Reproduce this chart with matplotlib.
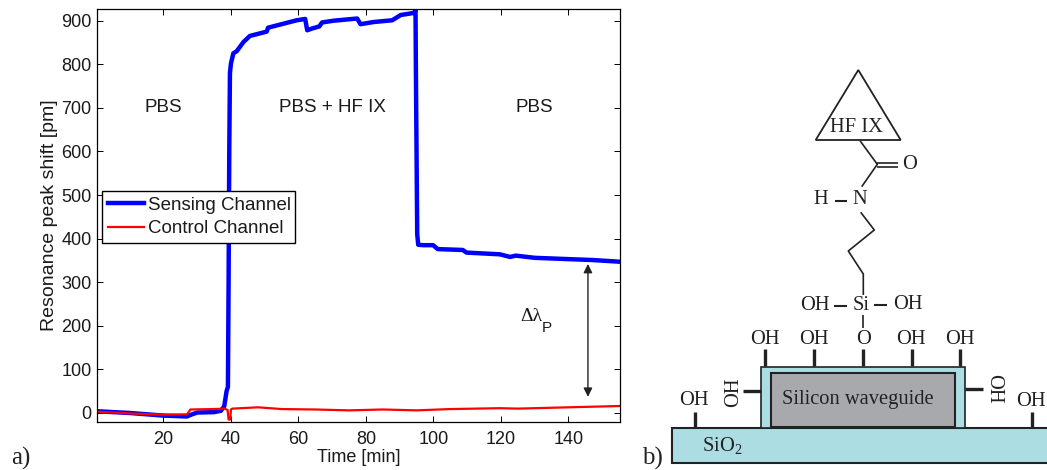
import matplotlib
matplotlib.use("Agg")
import matplotlib.pyplot as plt
from matplotlib.patches import Rectangle, Polygon

W, H = 1047, 470
SANS = "Liberation Sans"
SERIF = "Liberation Serif"

# ---- panel a data ----
sensing_t = [0.3, 5, 10, 20, 27, 27.8, 30, 35, 37, 38, 38.7, 39.1, 39.3, 39.5, 39.7, 40.0, 40.4, 40.7, 41.7, 43.7, 45.6,
             50.6, 51, 55.5, 59.5, 62, 62.6, 64, 66.2, 67, 70.4, 77.4, 78.4, 82.3, 87.8, 90.3, 94.3, 94.7,
             94.8, 95.0, 95.2, 95.5, 97, 99.9, 101.3, 108.7, 109.8, 119.7, 122.7, 124.4, 130, 140, 147, 155.3]
sensing_v = [4, 2, 0, -6, -8, -5, 1, 2, 5, 15, 50, 60, 300, 600, 780, 802, 815, 825, 830, 851, 865,
             875, 884, 893, 901, 904, 878, 882, 887, 896, 900, 905, 892, 897, 901, 913, 918, 925,
             800, 600, 410, 386, 385, 385, 376, 374, 368, 364, 358, 361, 356, 353, 351, 347]
control_t = [0.3, 10, 20, 27, 28, 35, 38, 39, 39.3, 39.8, 40, 40.4, 48, 55, 65, 75, 85, 95, 105, 119.7, 125, 135, 145, 155.3]
control_v = [3, -1, -4, -3, 8, 9, 10, 7, -15, -15, 8, 10, 13, 9, 8, 6, 8, 6, 9, 11, 10, 12, 14, 16]
x_ticks = [20, 40, 60, 80, 100, 120, 140]
y_ticks = [0, 100, 200, 300, 400, 500, 600, 700, 800, 900]
legend_labels = ["Sensing Channel", "Control Channel"]
arrow_time = 145.8
arrow_low = 37
arrow_high = 342

# ---- panel b geometry (diagram, pixel coordinates) ----
triangle = [(858.3, 70), (815.7, 140), (900.7, 140)]
thin_bonds = [
    [(860, 140.7), (877.3, 164.3), (861.7, 186.7)],
    [(877, 163), (898, 163)],
    [(877, 166.5), (898, 166.5)],
    [(860.7, 212.3), (874.3, 230), (848.3, 251), (863.3, 274), (863.3, 295)],
    [(863.3, 315), (863.3, 328.3)],
]
dashes = [
    [(835, 201), (847.3, 201)],
    [(834.3, 306), (847.3, 306)],
    [(874.3, 305.3), (887.3, 305.3)],
]
thick_sticks = [
    [(765.3, 349.3), (765.3, 366)], [(814, 349.3), (814, 366)], [(862.7, 349.3), (862.7, 366)],
    [(911.7, 349.3), (911.7, 366)], [(960.3, 349.3), (960.3, 366)],
    [(742.7, 391), (761, 391)], [(965, 389.3), (983.3, 389.3)],
    [(695, 411.7), (695, 428.3)], [(1031.7, 411.7), (1031.7, 428.3)],
]
diagram_texts = [
    ("HF IX", 856.5, 127, 0), ("O", 910, 164.5, 0), ("H", 821, 200, 0), ("N", 860, 200, 0),
    ("OH", 815, 306, 0), ("Si", 860.7, 305.7, 0), ("OH", 907.7, 304.3, 0), ("O", 863.5, 339.5, 0),
    ("OH", 764.7, 340, 0), ("OH", 813.7, 340, 0), ("OH", 911, 340, 0), ("OH", 959.7, 340, 0),
    ("OH", 733.3, 391.7, 90), ("OH", 993.3, 389, -90), ("OH", 694.3, 400.7, 0), ("OH", 1030.7, 401.7, 0),
    ("Silicon waveguide", 857.7, 399.3, 0), ("SiO$_2$", 722, 445, 0),
]

fig = plt.figure(figsize=(W / 100, H / 100), dpi=100)
plt.rcParams["mathtext.fontset"] = "custom"
plt.rcParams["mathtext.rm"] = SERIF
plt.rcParams["mathtext.default"] = "rm"

L, R, T, B = 97, 620, 8.5, 421.7
ax = fig.add_axes([L / W, 1 - B / H, (R - L) / W, (B - T) / H])
ax.plot(sensing_t, sensing_v, color="#0000ff", lw=3.2, label=legend_labels[0], solid_joinstyle="round")
ax.plot(control_t, control_v, color="#ff0000", lw=1.6, label=legend_labels[1])
ax.set_xlim(0.3, 155.3)
ax.set_ylim(-20, 928)
ax.set_xticks(x_ticks)
ax.set_yticks(y_ticks)
ax.tick_params(direction="in", top=True, right=True, length=4.5, width=0.7, labelsize=13, pad=4)
ax.tick_params(axis="x", pad=6.5)
for lab in ax.get_xticklabels() + ax.get_yticklabels():
    lab.set_fontfamily(SANS)
    lab.set_color("#1a1a1a")
for s in ax.spines.values():
    s.set_linewidth(0.9)
ax.set_xlabel("Time [min]", fontsize=13, family=SANS, labelpad=1, color="#1a1a1a")
ax.set_ylabel("Resonance peak shift [pm]", fontsize=14, family=SANS, labelpad=2, color="#1a1a1a")

for txt, tx, vy in [("PBS", 20, 700), ("PBS + HF IX", 70, 700), ("PBS", 130, 700)]:
    ax.text(tx, vy, txt, fontsize=13.5, family=SANS, ha="center", va="center", color="#1a1a1a")
ax.annotate("", xy=(arrow_time, arrow_high), xytext=(arrow_time, arrow_low),
            arrowprops=dict(arrowstyle="<|-|>", color="#222222", lw=1, mutation_scale=13, shrinkA=0, shrinkB=0))
ax.text(128.9, 221, "Δλ", fontsize=14, family=SERIF, ha="center", va="center", color="#1a1a1a")
ax.text(133.5, 195, "P", fontsize=11, family=SANS, ha="center", va="center", color="#1a1a1a")

ax_w, ax_h = R - L, B - T
leg = ax.legend(loc="upper left",
                bbox_to_anchor=((102.3 - L) / ax_w, (B - 190.7) / ax_h, (295 - 102.3) / ax_w, 0),
                mode="expand", prop={"family": SANS, "size": 13.5}, frameon=True,
                fancybox=False, framealpha=1, edgecolor="black", borderpad=0.32, labelspacing=0.33,
                handlelength=1.9, handletextpad=0.2, borderaxespad=0)
leg.get_frame().set_linewidth(1.0)
for t in leg.get_texts():
    t.set_color("#1a1a1a")

# panel b drawn in pixel coordinates
d = fig.add_axes([0, 0, 1, 1], facecolor="none")
d.set_xlim(0, W)
d.set_ylim(H, 0)
d.axis("off")
d.add_patch(Rectangle((671.7, 428.3), 400, 34.4, fc="#abdde3", ec="#222222", lw=1.5))
d.add_patch(Rectangle((761, 366.7), 204, 61.6, fc="#abdde3", ec="#222222", lw=1.2))
d.add_patch(Rectangle((770.7, 373.3), 184, 53.4, fc="#a7a9ac", ec="#222222", lw=1.5))
d.add_patch(Polygon(triangle, closed=True, fill=False, ec="#222222", lw=1.3))
for seg in thin_bonds:
    d.plot(*zip(*seg), color="#222222", lw=1.2, solid_capstyle="butt")
for seg in dashes:
    d.plot(*zip(*seg), color="#222222", lw=1.5, solid_capstyle="butt")
for seg in thick_sticks:
    d.plot(*zip(*seg), color="#222222", lw=2.4, solid_capstyle="butt")
for txt, x, y, rot in diagram_texts:
    d.text(x, y, txt, family=SERIF, fontsize=14.8, ha="center", va="center", rotation=rot, color="#222222")
d.text(21, 458, "a)", family=SERIF, fontsize=18, ha="center", va="center", color="#222222")
d.text(652, 458, "b)", family=SERIF, fontsize=18, ha="center", va="center", color="#222222")

fig.savefig("out.png", dpi=100)
